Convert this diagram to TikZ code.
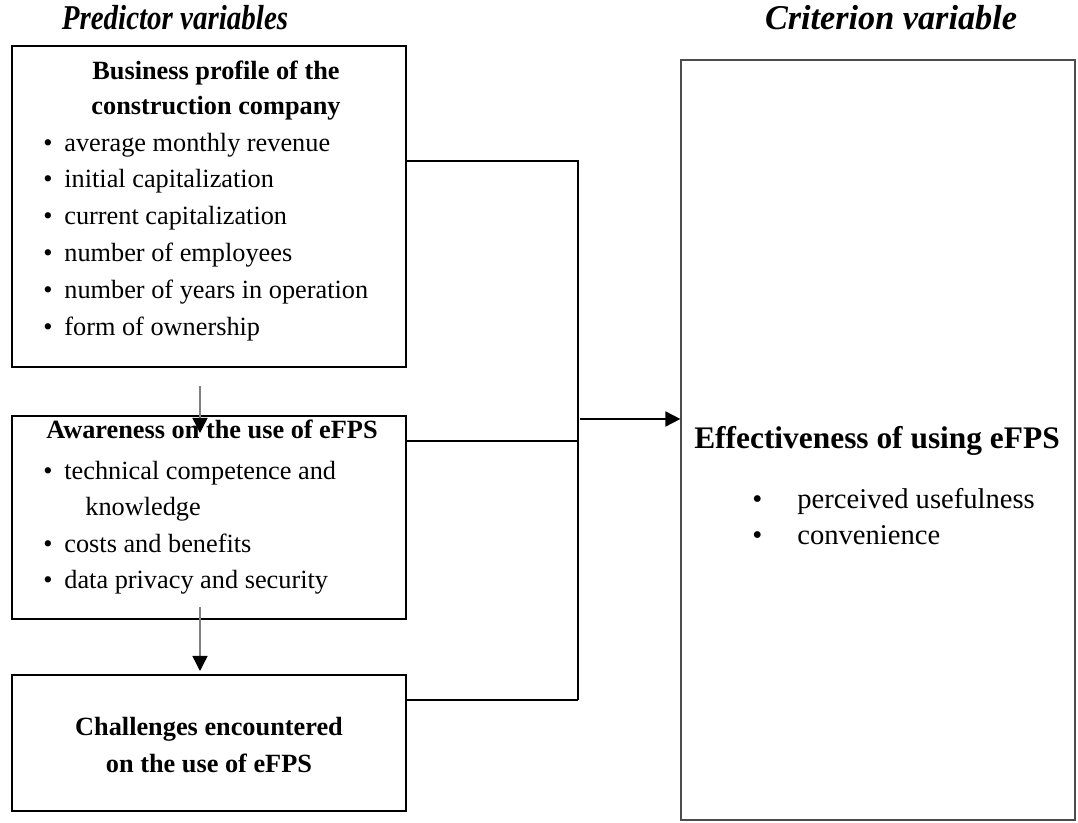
\documentclass[tikz,border=0pt]{standalone}
\usepackage{fontspec}
\setmainfont{Liberation Serif}
\usetikzlibrary{arrows.meta, positioning, calc}

\begin{document}
\begin{tikzpicture}[x=0.5pt, y=-0.5pt,
  boite/.style={draw, line width=1pt, minimum width=197pt, inner sep=0pt},
  txt/.style={anchor=base west, inner sep=0pt, font=\fontsize{13.15}{16}\selectfont},
  titre/.style={anchor=base, inner sep=0pt, font=\fontsize{13.15}{16}\selectfont\bfseries},
  entete/.style={anchor=base, inner sep=0pt, font=\fontsize{14.5}{17}\selectfont\bfseries\itshape},
  lien/.style={line width=0.9pt},
  fleche/.style={draw=gray, line width=0.7pt, -{Triangle[length=7.5pt, width=7.5pt, color=black]}}]
  \useasboundingbox (0,0) rectangle (1078,823);
  % En-têtes
  \node[entete] (hpred) at (175,30) {\scalebox{1}[1.2]{Predictor variables}};
  \node[entete] (hcrit) at (891,30) {\scalebox{1.18}[1.2]{Criterion variable}};
  % Boîtes
  \node[boite, minimum height=160.5pt] (profil) at (209,206.5) {};
  \node[boite, minimum height=101.5pt] (aware) at (209,517.5) {};
  \node[boite, minimum height=68pt] (defis) at (209,743) {};
  \node[boite, draw=black!70, line width=0.6pt, minimum height=380pt] (effet) at (878,440) {};
  % Profil de l'entreprise
  \node[titre] (p-t1) at (216,80) {Business profile of the};
  \node[titre] (p-t2) at (216,115) {construction company};
  \foreach \i/\y/\t in {1/152/average monthly revenue, 2/188/initial capitalization,
    3/225/current capitalization, 4/262/number of employees,
    5/299/number of years in operation, 6/336/form of ownership}{
    \node[txt] (p-b\i) at (43,\y) {\makebox[10.5pt][l]{\textbullet}\t};
  }
  % Sensibilisation
  \node[titre] (a-t) at (212,439) {Awareness on the use of eFPS};
  \foreach \i/\y/\t in {1/480/technical competence and, 2/553/costs and benefits,
    3/589/data privacy and security}{
    \node[txt] (a-b\i) at (43,\y) {\makebox[10.5pt][l]{\textbullet}\t};
  }
  \node[txt] (a-b1s) at (85,516) {knowledge};
  % Défis
  \node[titre] (d-t1) at (209,736) {Challenges encountered};
  \node[titre] (d-t2) at (209,773) {on the use of eFPS};
  % Critère
  \node[titre, font=\fontsize{15.7}{18}\selectfont\bfseries] (e-t) at (877,449) {Effectiveness of using eFPS};
  \foreach \i/\y/\t in {1/509/perceived usefulness, 2/545/convenience}{
    \node[txt, font=\fontsize{14.3}{17}\selectfont] (e-b\i) at (752,\y) {\makebox[22.5pt][l]{\textbullet}\t};
  }
  % Liaisons
  \coordinate (j1) at (578,161);
  \coordinate (j2) at (578,441);
  \coordinate (j3) at (578,700);
  \coordinate (ja) at (580,419);
  \draw[lien] (profil.east |- j1) -- (j1) -- (j3);
  \draw[lien] (aware.east |- j2) -- (j2);
  \draw[lien] (defis.east |- j3) -- (j3);
  \draw[lien, -{Triangle[length=7.5pt, width=7.5pt]}] (ja) -- (effet.west |- ja);
  % Flèches verticales
  \coordinate (v1a) at (200,386);
  \coordinate (v1b) at (200,433);
  \coordinate (v2a) at (200,607);
  \coordinate (v2b) at (200,671);
  \draw[fleche] (v1a) -- (v1b);
  \draw[fleche] (v2a) -- (v2b);
\end{tikzpicture}
\end{document}
